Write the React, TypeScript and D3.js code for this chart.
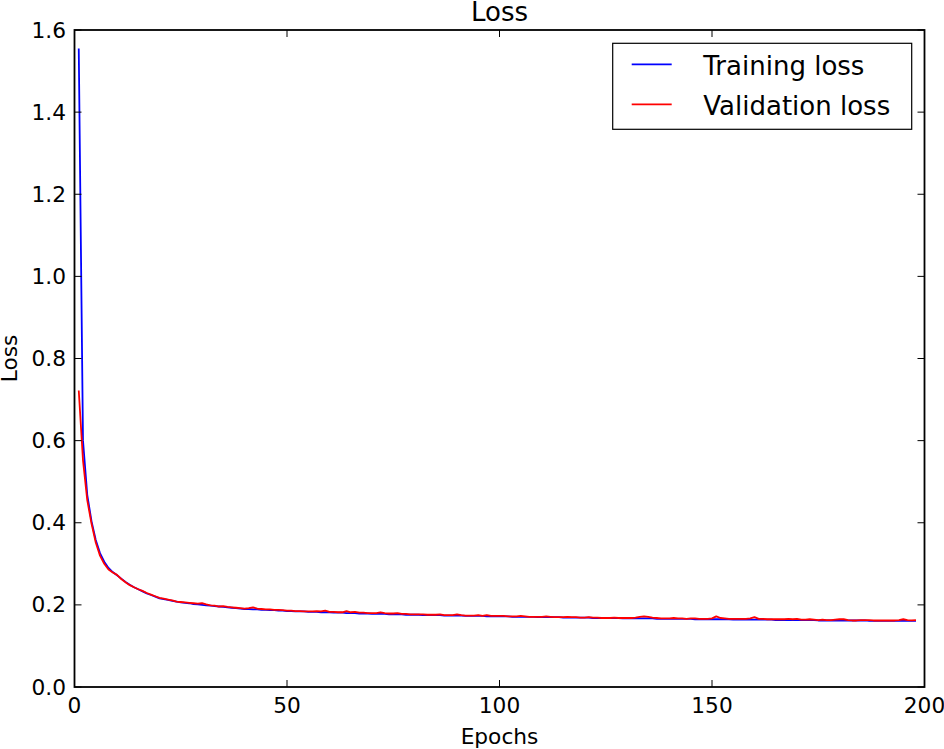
import React from "react";
import * as d3 from "d3";

const trainingLoss: number[] = [
  1.555, 0.600, 0.468, 0.404, 0.358, 0.326, 0.305, 0.290, 0.280, 0.272,
  0.264, 0.256, 0.249, 0.243, 0.238, 0.233, 0.228, 0.224, 0.220, 0.216,
  0.214, 0.212, 0.210, 0.208, 0.206, 0.205, 0.204, 0.202, 0.201, 0.200,
  0.199, 0.198, 0.197, 0.196, 0.195, 0.194, 0.193, 0.192, 0.191, 0.190,
  0.190, 0.189, 0.189, 0.188, 0.188, 0.187, 0.187, 0.186, 0.186, 0.185,
  0.185, 0.184, 0.184, 0.184, 0.183, 0.183, 0.183, 0.182, 0.182, 0.182,
  0.181, 0.181, 0.181, 0.180, 0.180, 0.180, 0.179, 0.179, 0.179, 0.178,
  0.178, 0.178, 0.178, 0.177, 0.177, 0.177, 0.177, 0.176, 0.176, 0.176,
  0.176, 0.175, 0.175, 0.175, 0.175, 0.175, 0.174, 0.174, 0.174, 0.174,
  0.174, 0.173, 0.173, 0.173, 0.173, 0.173, 0.172, 0.172, 0.172, 0.172,
  0.172, 0.172, 0.171, 0.171, 0.171, 0.171, 0.171, 0.171, 0.170, 0.170,
  0.170, 0.170, 0.170, 0.170, 0.169, 0.169, 0.169, 0.169, 0.169, 0.169,
  0.169, 0.168, 0.168, 0.168, 0.168, 0.168, 0.168, 0.168, 0.167, 0.167,
  0.167, 0.167, 0.167, 0.167, 0.167, 0.167, 0.166, 0.166, 0.166, 0.166,
  0.166, 0.166, 0.166, 0.166, 0.166, 0.165, 0.165, 0.165, 0.165, 0.165,
  0.165, 0.165, 0.165, 0.165, 0.164, 0.164, 0.164, 0.164, 0.164, 0.164,
  0.164, 0.164, 0.164, 0.164, 0.163, 0.163, 0.163, 0.163, 0.163, 0.163,
  0.163, 0.163, 0.163, 0.163, 0.162, 0.162, 0.162, 0.162, 0.162, 0.162,
  0.162, 0.162, 0.162, 0.162, 0.162, 0.162, 0.161, 0.161, 0.161, 0.161,
  0.161, 0.161, 0.161, 0.161, 0.161, 0.161, 0.161, 0.161,
];

const validationLoss: number[] = [
  0.722, 0.552, 0.455, 0.398, 0.352, 0.320, 0.300, 0.286, 0.279, 0.273,
  0.263, 0.255, 0.248, 0.243, 0.238, 0.234, 0.229, 0.225, 0.221, 0.217,
  0.215, 0.213, 0.211, 0.208, 0.207, 0.206, 0.205, 0.204, 0.203, 0.204,
  0.201, 0.199, 0.198, 0.196, 0.197, 0.195, 0.194, 0.193, 0.192, 0.191,
  0.192, 0.194, 0.191, 0.190, 0.189, 0.189, 0.188, 0.188, 0.187, 0.186,
  0.186, 0.185, 0.185, 0.184, 0.184, 0.184, 0.185, 0.184, 0.186, 0.183,
  0.183, 0.182, 0.182, 0.185, 0.182, 0.183, 0.181, 0.181, 0.180, 0.180,
  0.180, 0.182, 0.180, 0.179, 0.179, 0.180, 0.178, 0.178, 0.177, 0.177,
  0.177, 0.177, 0.176, 0.176, 0.176, 0.177, 0.175, 0.175, 0.175, 0.177,
  0.175, 0.174, 0.174, 0.174, 0.175, 0.173, 0.175, 0.173, 0.173, 0.173,
  0.173, 0.172, 0.172, 0.172, 0.173, 0.172, 0.171, 0.171, 0.171, 0.171,
  0.172, 0.171, 0.170, 0.170, 0.170, 0.171, 0.170, 0.170, 0.169, 0.169,
  0.170, 0.169, 0.169, 0.168, 0.168, 0.168, 0.169, 0.168, 0.168, 0.168,
  0.168, 0.169, 0.171, 0.172, 0.171, 0.169, 0.168, 0.167, 0.167, 0.167,
  0.168, 0.167, 0.167, 0.166, 0.167, 0.167, 0.166, 0.166, 0.166, 0.167,
  0.172, 0.168, 0.167, 0.166, 0.166, 0.166, 0.166, 0.166, 0.167, 0.170,
  0.166, 0.166, 0.165, 0.165, 0.165, 0.165, 0.165, 0.166, 0.165, 0.166,
  0.164, 0.164, 0.165, 0.164, 0.163, 0.164, 0.163, 0.163, 0.164, 0.165,
  0.165, 0.163, 0.162, 0.162, 0.163, 0.163, 0.163, 0.162, 0.162, 0.162,
  0.162, 0.162, 0.162, 0.163, 0.165, 0.163, 0.162, 0.163,
];

const xTicks: number[] = [0, 50, 100, 150, 200];
const yTicks: number[] = [0.0, 0.2, 0.4, 0.6, 0.8, 1.0, 1.2, 1.4, 1.6];
const seriesNames: string[] = ["Training loss", "Validation loss"];
const seriesColors: string[] = ["#0000ff", "#ff0000"];

const W = 944;
const H = 749;
const L = 74.5;
const R = 924.5;
const T = 30;
const B = 687;
const FONT = "'DejaVu Sans', sans-serif";

export default function App() {
  const x = d3.scaleLinear().domain([0, 200]).range([L, R]);
  const y = d3.scaleLinear().domain([0, 1.6]).range([B, T]);
  const line = d3
    .line<number>()
    .x((_, i) => x(i + 1))
    .y((d) => y(d));
  const series = [trainingLoss, validationLoss];
  const tickLen = 7;

  return (
    <svg
      width={W}
      height={H}
      style={{ position: "absolute", left: 0, top: 0, display: "block", background: "#fff" }}
      fontFamily={FONT}
    >
      <rect x={0} y={0} width={W} height={H} fill="#fff" />
      <defs>
        <clipPath id="plotclip">
          <rect x={L} y={T} width={R - L} height={B - T} />
        </clipPath>
      </defs>
      <g clipPath="url(#plotclip)">
        {series.map((s, i) => (
          <path
            key={i}
            d={line(s) || ""}
            fill="none"
            stroke={seriesColors[i]}
            strokeWidth={1.8}
            strokeLinejoin="round"
          />
        ))}
      </g>
      {/* ticks */}
      {xTicks.map((t) => (
        <g key={"x" + t}>
          <line x1={x(t)} x2={x(t)} y1={B} y2={B - tickLen} stroke="#000" strokeWidth={1} />
          <line x1={x(t)} x2={x(t)} y1={T} y2={T + tickLen} stroke="#000" strokeWidth={1} />
          <text x={x(t)} y={713} textAnchor="middle" fontSize={21.7} fill="#000">
            {d3.format("d")(t)}
          </text>
        </g>
      ))}
      {yTicks.map((t) => (
        <g key={"y" + t}>
          <line x1={L} x2={L + tickLen} y1={y(t)} y2={y(t)} stroke="#000" strokeWidth={1} />
          <line x1={R} x2={R - tickLen} y1={y(t)} y2={y(t)} stroke="#000" strokeWidth={1} />
          <text x={66} y={y(t) + 7.5} textAnchor="end" fontSize={21.7} fill="#000">
            {d3.format(".1f")(t)}
          </text>
        </g>
      ))}
      <rect x={L} y={T} width={R - L} height={B - T} fill="none" stroke="#000" strokeWidth={1.8} />
      {/* title and labels */}
      <text x={(L + R) / 2} y={21} textAnchor="middle" fontSize={26} fill="#000">
        Loss
      </text>
      <text x={(L + R) / 2} y={744} textAnchor="middle" fontSize={21.7} fill="#000">
        Epochs
      </text>
      <text
        transform={`translate(17,${(T + B) / 2}) rotate(-90)`}
        textAnchor="middle"
        fontSize={21.7}
        fill="#000"
      >
        Loss
      </text>
      {/* legend */}
      <rect x={612.7} y={43.3} width={299} height={86} fill="#fff" stroke="#000" strokeWidth={1.2} />
      {seriesNames.map((n, i) => (
        <g key={n}>
          <line
            x1={631.7}
            x2={671.7}
            y1={64.3 + i * 40}
            y2={64.3 + i * 40}
            stroke={seriesColors[i]}
            strokeWidth={1.8}
          />
          <text x={703.3} y={74.5 + i * 40} fontSize={26} fill="#000">
            {n}
          </text>
        </g>
      ))}
    </svg>
  );
}
